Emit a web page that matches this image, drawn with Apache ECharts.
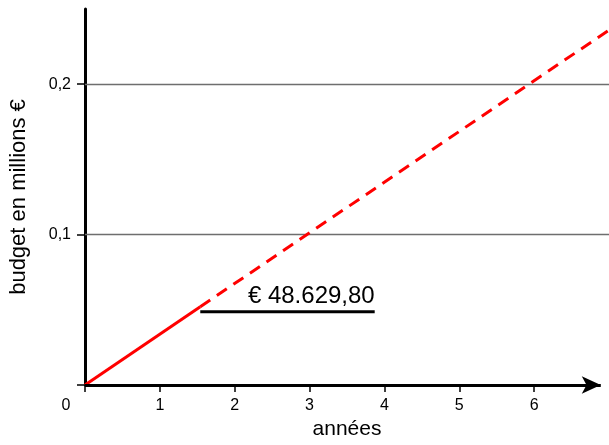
<!DOCTYPE html>
<html>
<head>
<meta charset="utf-8">
<script src="https://cdn.jsdelivr.net/npm/echarts@6/dist/echarts.min.js"></script>
<style>
  html, body { margin: 0; padding: 0; background: #fff; }
  #chart { width: 609px; height: 445px; }
</style>
</head>
<body>
<div id="chart"></div>
<script>
// Budget growth over the years (in millions of euros)
const xTickValues = [0, 1, 2, 3, 4, 5, 6];
const yTickValues = [0, 0.1, 0.2];
const yLabelValues = [0.1, 0.2];

// Realised part of the budget (solid) and projection (dashed)
const solidYears = [0, 1.54];
const solidBudget = [0, 0.052];
const dashedYears = [1.54, 7];
const dashedBudget = [0.052, 0.236];

// Annotated amount and the horizontal span of its marker line
const annotatedAmount = 48629.80;
const annotatedSpan = [1.54, 3.87];

const xAxisMax = 7;
const yAxisMax = 0.25;
const arrowEnd = 6.89;

const FONT = 'Liberation Sans, Arial, sans-serif';

function pairs(xs, ys) {
  return xs.map((x, i) => [x, ys[i]]);
}

function formatEuro(v) {
  const parts = v.toFixed(2).split('.');
  const intPart = parts[0].replace(/\B(?=(\d{3})+(?!\d))/g, '.');
  return '€ ' + intPart + ',' + parts[1];
}

const annotatedMillions = annotatedAmount / 1e6;

const chart = echarts.init(document.getElementById('chart'), null, { renderer: 'canvas' });

chart.setOption({
  animation: false,
  backgroundColor: '#ffffff',
  grid: { left: 82, right: 0, top: 9, bottom: 58, containLabel: false },
  xAxis: {
    type: 'value',
    min: 0,
    max: xAxisMax,
    name: 'années',
    nameLocation: 'middle',
    nameGap: 34,
    nameTextStyle: { fontFamily: FONT, fontSize: 21, color: '#000' },
    axisLine: { show: false },
    axisTick: {
      show: true, length: 7, customValues: xTickValues,
      lineStyle: { color: '#000', width: 1.5 }
    },
    axisLabel: {
      show: true, margin: 13, customValues: xTickValues,
      fontFamily: FONT, fontSize: 16, color: '#000',
      formatter: v => v === 0 ? '{o|0}' : String(v),
      rich: { o: { fontFamily: FONT, fontSize: 16, color: '#000', padding: [0, 38, 0, 0] } }
    },
    splitLine: { show: false }
  },
  yAxis: {
    type: 'value',
    min: 0,
    max: yAxisMax,
    name: 'budget en millions €',
    nameLocation: 'middle',
    nameGap: 55,
    nameTextStyle: { fontFamily: FONT, fontSize: 22, color: '#000' },
    axisLine: { show: true, onZero: false, lineStyle: { color: '#000', width: 3 } },
    axisTick: {
      show: true, length: 8, customValues: yTickValues,
      lineStyle: { color: '#000', width: 1.5 }
    },
    axisLabel: {
      show: true, margin: 14, customValues: yLabelValues,
      fontFamily: FONT, fontSize: 16, color: '#000',
      formatter: v => v.toFixed(1).replace('.', ',')
    },
    splitLine: { show: false }
  },
  series: [
    {
      name: 'grille',
      type: 'line',
      data: [],
      silent: true,
      markLine: {
        silent: true,
        symbol: ['none', 'none'],
        label: { show: false },
        lineStyle: { color: '#6e6e6e', width: 1.3, type: 'solid' },
        data: yLabelValues.map(v => ({ yAxis: v })),
        z: 1
      },
      z: 1
    },
    {
      name: 'axe',
      type: 'line',
      data: [],
      silent: true,
      markLine: {
        silent: true,
        label: { show: false },
        lineStyle: { color: '#000', width: 3, type: 'solid' },
        data: [[
          { coord: [0, 0], symbol: 'none' },
          { coord: [arrowEnd, 0], symbol: 'arrow', symbolSize: [13, 19] }
        ]]
      },
      z: 5
    },
    {
      name: 'budget',
      type: 'line',
      data: pairs(solidYears, solidBudget),
      showSymbol: false,
      symbol: 'none',
      lineStyle: { color: '#ff0000', width: 3 },
      z: 3
    },
    {
      name: 'projection',
      type: 'line',
      data: pairs(dashedYears, dashedBudget),
      showSymbol: false,
      symbol: 'none',
      lineStyle: { color: '#ff0000', width: 3, type: [12, 8] },
      z: 3
    },
    {
      name: 'montant',
      type: 'line',
      data: [
        { value: [annotatedSpan[0], annotatedMillions] },
        {
          value: [annotatedSpan[1], annotatedMillions],
          label: {
            show: true,
            position: 'top',
            align: 'right',
            distance: 3,
            formatter: () => formatEuro(annotatedAmount),
            fontFamily: FONT,
            fontSize: 24,
            color: '#000'
          }
        }
      ],
      symbol: 'circle',
      symbolSize: 0,
      showSymbol: true,
      lineStyle: { color: '#000', width: 3 },
      label: { show: false },
      z: 4
    }
  ]
});
</script>
</body>
</html>
